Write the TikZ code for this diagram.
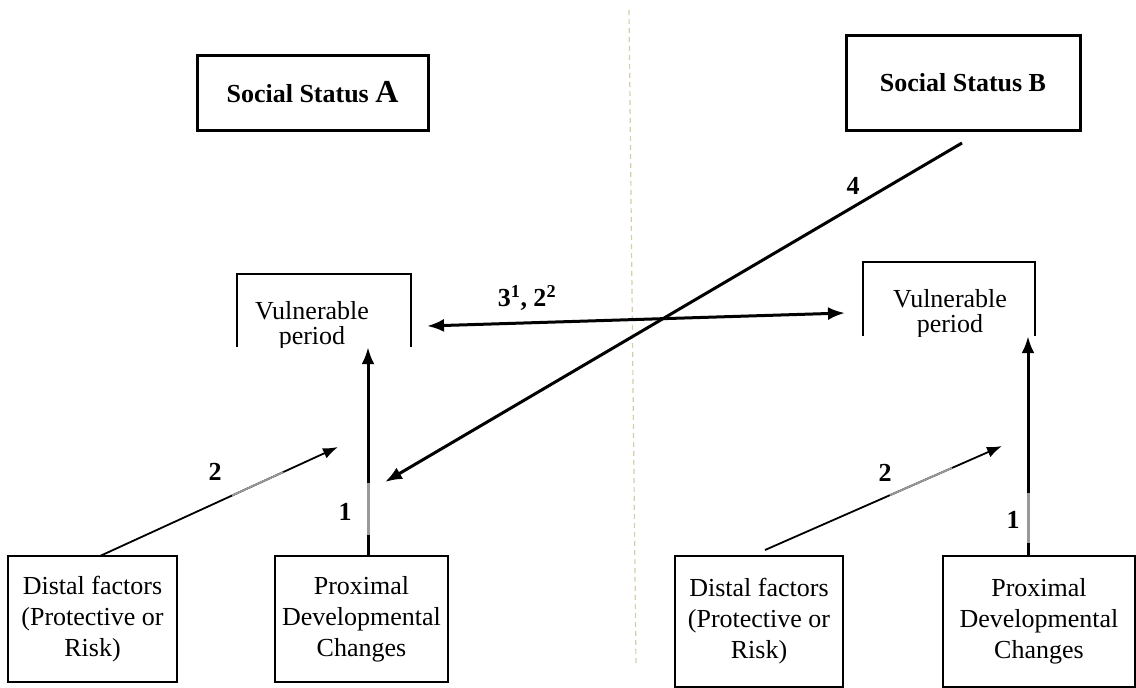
\documentclass[tikz,border=0pt]{standalone}
\usepackage{fontspec}
\setmainfont{Liberation Serif}
\usetikzlibrary{arrows.meta,calc}
\definecolor{tan}{RGB}{214,204,172}
\begin{document}
\begin{tikzpicture}[x=1pt,y=-1pt,
  txt/.style={font=\fontsize{26}{31}\selectfont, align=center, inner sep=0pt},
  vtxt/.style={font=\fontsize{26}{25}\selectfont, align=center, inner sep=0pt},
  lbl/.style={font=\fontsize{26}{31}\selectfont\bfseries, inner sep=0pt},
  ssbox/.style={draw, line width=3pt, font=\fontsize{26}{31}\selectfont\bfseries, inner sep=0pt},
  bbox/.style={draw, line width=1.6pt, txt},
  thick arrow/.style={line width=3pt, -{Latex[length=17pt,width=13pt]}},
  thin arrow/.style={line width=1.8pt, -{Latex[length=15pt,width=11pt]}},
  grayseg/.style={line width=3pt, gray!80},
  graysegthin/.style={line width=1.8pt, gray!80}]
\useasboundingbox (0,0) rectangle (1136,688);

% divider
\draw[tan, line width=1.2pt, dash pattern=on 5pt off 4pt] (629,10) -- (636,665);

% social status boxes
\node[ssbox, minimum width=231pt, minimum height=75pt] (ssA) at (312.5,92.5) {Social Status {\fontsize{32}{36}\selectfont A}};
\node[ssbox, minimum width=234pt, minimum height=95pt] (ssB) at (963,82.5) {Social Status B};

% vulnerable boxes (bottom edge hidden, text clipped)
\node[minimum width=174pt, minimum height=73pt, inner sep=0pt] (vA) at (324,310.5) {};
\node[minimum width=172pt, minimum height=74pt, inner sep=0pt] (vB) at (949,299) {};
\begin{scope}
\clip (vA.south west) rectangle (vA.north east);
\node[vtxt, anchor=north] at ($(vA.north)+(-12,27)$) {Vulnerable\\period};
\end{scope}
\begin{scope}
\clip (vB.south west) rectangle (vB.north east);
\node[vtxt, anchor=north] at ($(vB.north)+(1,27)$) {Vulnerable\\period};
\end{scope}
\draw[line width=1.6pt] (vA.south west) -- (vA.north west) -- (vA.north east) -- (vA.south east);
\draw[line width=1.6pt] (vB.south west) -- (vB.north west) -- (vB.north east) -- (vB.south east);

% bottom boxes
\node[bbox, minimum width=169pt, minimum height=126pt] (distA) at (92.5,619) {Distal factors\\(Protective or\\Risk)};
\node[bbox, minimum width=173pt, minimum height=126pt] (proxA) at (361.5,619) {Proximal\\Developmental\\Changes};
\node[bbox, minimum width=168pt, minimum height=131pt] (distB) at (759,621.5) {Distal factors\\(Protective or\\Risk)};
\node[bbox, minimum width=192pt, minimum height=131pt] (proxB) at (1039,621.5) {Proximal\\Developmental\\Changes};

% coordinates
\coordinate (xA1) at (368,0);
\coordinate (xB1) at (1028,0);
\coordinate (s2A) at (100,556);
\coordinate (e2A) at (338,447);
\coordinate (s2B) at (765,550);
\coordinate (e2B) at (1002,446);
\coordinate (s4) at (962,143);
\coordinate (e4) at (385,482);
\coordinate (s3) at (427,326);
\coordinate (e3) at (845,313);

% arrows 1
\draw[thick arrow] (proxA.north -| xA1) -- (vA.south -| xA1);
\draw[grayseg] (368,483) -- (368,535);
\draw[thick arrow] (proxB.north -| xB1) -- (vB.south -| xB1);
\draw[grayseg] (1028,493) -- (1028,543);

% arrows 2
\draw[thin arrow] (s2A) -- (e2A);
\draw[graysegthin] ($(s2A)!0.555!(e2A)$) -- ($(s2A)!0.77!(e2A)$);
\draw[thin arrow] (s2B) -- (e2B);
\draw[graysegthin] ($(s2B)!0.527!(e2B)$) -- ($(s2B)!0.789!(e2B)$);

% arrow 4
\draw[thick arrow] (s4) -- (e4);
% arrow 3
\draw[line width=3pt, {Latex[length=17pt,width=13pt]}-{Latex[length=17pt,width=13pt]}] (s3) -- (e3);

% labels
\node[lbl] (l1A) at (345,512) {1};
\node[lbl] (l1B) at (1013,520) {1};
\node[lbl] (l2A) at (215,472) {2};
\node[lbl] (l2B) at (885,473) {2};
\node[lbl] (l4) at (853,186) {4};
\node[lbl] (l3) at (527,298) {3\textsuperscript{1}, 2\textsuperscript{2}};
\end{tikzpicture}
\end{document}
